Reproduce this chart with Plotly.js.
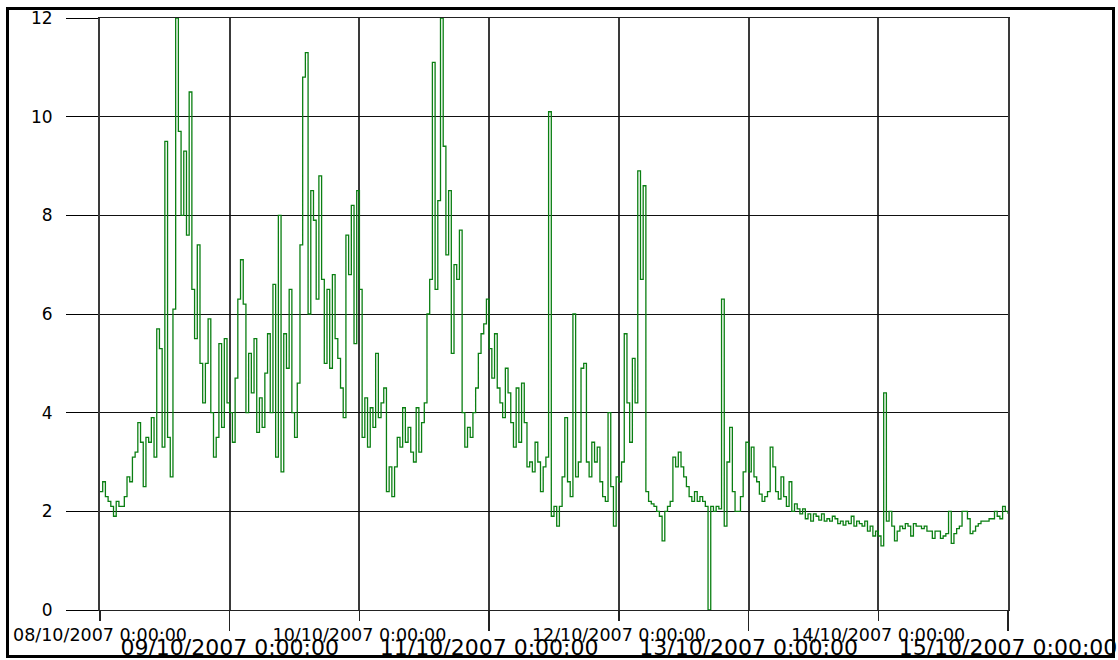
<!DOCTYPE html>
<html>
<head>
<meta charset="utf-8">
<script src="https://cdn.plot.ly/plotly-3.0.1.min.js"></script>
<style>
  html, body { margin: 0; padding: 0; background: #ffffff; }
  #wrap { position: relative; width: 1118px; height: 660px; }
  #chart { position: absolute; left: 0; top: 0; width: 1118px; height: 660px; }
  #frame { position: absolute; left: 6px; top: 7px; width: 1109px; height: 651px; border: 3px solid #000; box-sizing: border-box; pointer-events: none; }
</style>
</head>
<body>
<div id="wrap">
  <div id="chart"></div>
  <div id="frame"></div>
</div>
<script>
// Half-hourly readings, one array per day (starting at 0:00:00)
const day08 = [2.4,2.6,2.3,2.2,2.1,1.9,2.2,2.1,2.1,2.3,2.7,2.6,3.1,3.2,3.8,3.4,2.5,3.5,3.4,3.9,3.1,5.7,5.3,3.3,9.5,3.5,2.7,6.1,12.0,9.7,8.0,9.3,7.6,10.5,6.5,5.5,7.4,5.0,4.2,5.0,5.9,4.0,3.1,3.5,5.4,3.7,5.5,4.2];
const day09 = [4.0,3.4,4.7,6.3,7.1,6.2,4.0,5.2,4.4,5.5,3.6,4.3,3.7,4.8,5.6,4.0,6.6,3.1,8.0,2.8,5.6,4.9,6.5,4.0,3.5,4.6,7.4,10.8,11.3,6.0,8.5,7.9,6.3,8.8,6.7,5.0,6.5,4.9,6.8,5.5,5.1,4.5,3.9,7.6,6.8,8.2,5.4,8.5];
const day10 = [6.5,3.5,4.3,3.3,4.1,3.7,5.2,3.9,4.2,4.5,2.4,2.9,2.3,2.9,3.5,3.3,4.1,3.4,3.7,3.2,3.0,4.1,3.2,3.8,4.2,6.0,6.7,11.1,6.5,8.3,12.0,9.4,7.2,8.5,5.2,7.0,6.7,7.7,4.0,3.3,3.7,3.5,4.0,4.5,5.2,5.6,5.8,6.3];
const day11 = [5.3,4.7,5.6,4.5,4.2,3.9,4.9,4.4,3.8,3.3,4.5,3.4,4.6,3.8,2.9,3.0,2.8,3.4,3.0,2.4,2.9,3.1,10.1,1.9,2.1,1.7,2.1,2.7,3.9,2.6,2.3,6.0,2.7,3.0,4.9,5.0,3.0,2.7,3.4,3.0,3.3,2.6,2.3,2.2,4.0,2.5,1.7,2.7];
const day12 = [2.6,3.0,5.6,4.2,3.4,5.1,4.2,8.9,6.7,8.6,2.4,2.2,2.15,2.1,2.0,1.9,1.4,2.0,2.1,2.2,3.1,2.9,3.2,2.9,2.7,2.5,2.3,2.2,2.4,2.2,2.3,2.2,2.1,0.0,2.1,2.0,2.1,2.05,6.3,1.7,3.0,3.7,2.4,2.0,2.0,2.3,2.8,3.4];
const day13 = [2.8,3.3,2.7,2.6,2.35,2.2,2.3,2.4,3.3,2.9,2.4,2.25,2.7,2.3,2.1,2.6,2.0,2.15,2.05,1.95,2.05,1.85,1.95,1.8,1.95,1.9,1.82,1.95,1.8,1.85,1.8,1.9,1.85,1.75,1.8,1.72,1.8,1.75,1.9,1.7,1.8,1.75,1.7,1.8,1.6,1.7,1.5,1.6];
const day14 = [1.5,1.3,4.4,1.8,2.0,1.7,1.4,1.6,1.7,1.65,1.75,1.7,1.5,1.75,1.7,1.7,1.65,1.7,1.6,1.6,1.45,1.6,1.6,1.45,1.5,1.55,2.0,1.35,1.55,1.65,1.7,2.0,2.0,1.85,1.55,1.6,1.7,1.75,1.8,1.8,1.8,1.85,1.85,2.0,1.9,1.85,2.1,2.0];
const lastValue = 1.95;

const dayStarts = ['2007-10-08','2007-10-09','2007-10-10','2007-10-11','2007-10-12','2007-10-13','2007-10-14'];
const endDay = '2007-10-15';
const oddDays = ['2007-10-09','2007-10-11','2007-10-13','2007-10-15'];
const oddLabels = ['09/10/2007 0:00:00','11/10/2007 0:00:00','13/10/2007 0:00:00','15/10/2007 0:00:00'];
const evenDays = ['2007-10-08','2007-10-10','2007-10-12','2007-10-14'];
const evenLabels = ['08/10/2007 0:00:00','10/10/2007 0:00:00','12/10/2007 0:00:00','14/10/2007 0:00:00'];
const yTicks = [0,2,4,6,8,10,12];

const days = [day08, day09, day10, day11, day12, day13, day14];
const xs = [], ys = [];
function pad(n){ return (n < 10 ? '0' : '') + n; }
days.forEach((arr, d) => {
  arr.forEach((v, i) => {
    const h = Math.floor(i / 2), m = (i % 2) * 30;
    xs.push(dayStarts[d] + ' ' + pad(h) + ':' + pad(m) + ':00');
    ys.push(v);
  });
});
xs.push(endDay + ' 00:00:00');
ys.push(lastValue);

const allDays = dayStarts.concat([endDay]);

const trace = {
  x: xs, y: ys, type: 'scatter', mode: 'lines',
  line: { color: '#0a7f12', width: 1.3, shape: 'hv' },
  hoverinfo: 'x+y'
};

const layout = {
  width: 1118, height: 660,
  margin: { l: 100, r: 110, t: 18, b: 50 },
  paper_bgcolor: '#ffffff', plot_bgcolor: '#ffffff',
  showlegend: false,
  font: { family: 'DejaVu Sans, Verdana, sans-serif', color: '#000' },
  xaxis: {
    type: 'date', range: ['2007-10-08', '2007-10-15'],
    tickmode: 'array', tickvals: oddDays, ticktext: oddLabels,
    ticks: 'outside', ticklen: 20, tickwidth: 1.5, tickcolor: '#222',
    tickfont: { size: 22, family: 'DejaVu Sans', color: '#000' },
    ticklabelstandoff: -2,
    showgrid: true, gridcolor: '#3a3a3a', gridwidth: 2,
    minor: { tickmode: 'array', tickvals: allDays, ticks: 'outside', ticklen: 10, tickwidth: 1.5, tickcolor: '#222', showgrid: true, gridcolor: '#3a3a3a', gridwidth: 2 },
    showline: true, mirror: true, linecolor: '#222', linewidth: 1,
    zeroline: false, fixedrange: true
  },
  xaxis2: {
    type: 'date', range: ['2007-10-08', '2007-10-15'],
    overlaying: 'x', anchor: 'y', side: 'bottom',
    tickmode: 'array', tickvals: evenDays, ticktext: evenLabels,
    ticks: 'outside', ticklen: 10, tickwidth: 1.5, tickcolor: '#222',
    tickfont: { size: 17.5, family: 'DejaVu Sans', color: '#000' },
    ticklabelstandoff: -1,
    showgrid: false, showline: false, zeroline: false, fixedrange: true
  },
  yaxis: {
    range: [0, 12], tickmode: 'array', tickvals: yTicks, ticktext: yTicks.map(String),
    ticks: 'outside', ticklen: 32, tickwidth: 1, tickcolor: '#000',
    ticklabelstandoff: 10,
    tickfont: { size: 17, family: 'DejaVu Sans', color: '#000' },
    showgrid: true, gridcolor: '#111', gridwidth: 1,
    showline: true, mirror: true, linecolor: '#3a3a3a', linewidth: 2,
    zeroline: false, fixedrange: true
  }
};

const ghost = { x: [endDay], y: [null], xaxis: 'x2', yaxis: 'y', type: 'scatter', mode: 'lines', hoverinfo: 'skip', showlegend: false };

Plotly.newPlot('chart', [trace, ghost], layout, { displayModeBar: false, staticPlot: true });
</script>
</body>
</html>
